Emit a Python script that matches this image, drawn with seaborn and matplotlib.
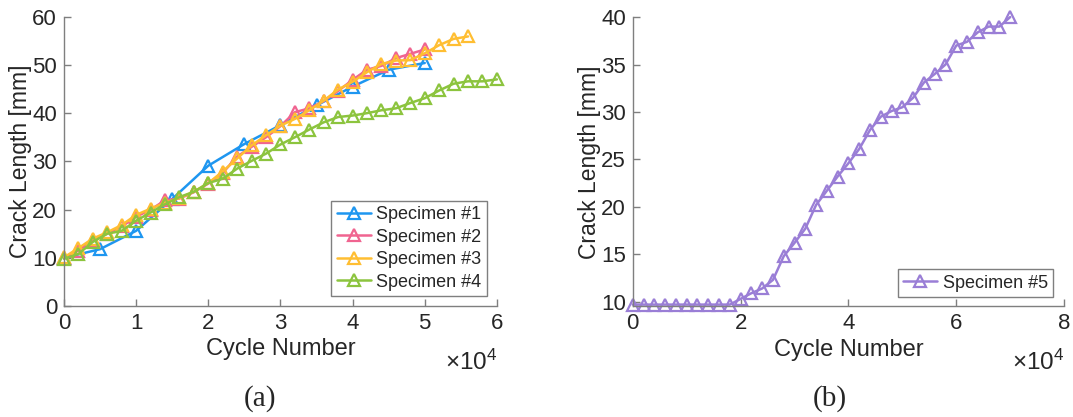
import numpy as np
import pandas as pd
import seaborn as sns
import matplotlib.pyplot as plt

# cycle numbers are in units of 1e4
x_s1 = [0, 0.5, 1.0, 1.5, 2.0, 2.5, 3.0, 3.5, 4.0, 4.5, 5.0]
y_s1 = [10.0, 11.8, 15.6, 22.2, 29.1, 33.6, 37.5, 41.6, 45.5, 49.0, 50.4]

x_s2 = [0, 0.2, 0.4, 0.6, 0.8, 1.0, 1.2, 1.4, 1.6, 1.8, 2.0, 2.2, 2.4, 2.6, 2.8,
        3.0, 3.2, 3.4, 3.6, 3.8, 4.0, 4.2, 4.4, 4.6, 4.8, 5.0]
y_s2 = [10.0, 11.5, 13.6, 15.0, 16.5, 18.5, 20.0, 21.9, 22.3, 23.6, 25.4, 27.6, 31.0,
        33.0, 35.0, 37.3, 40.2, 41.0, 42.5, 44.6, 46.9, 49.0, 49.8, 51.4, 52.3, 53.2]

x_s3 = [0, 0.2, 0.4, 0.6, 0.8, 1.0, 1.2, 1.4, 1.6, 1.8, 2.0, 2.2, 2.4, 2.6, 2.8,
        3.0, 3.2, 3.4, 3.6, 3.8, 4.0, 4.2, 4.4, 4.6, 4.8, 5.0, 5.2, 5.4, 5.6]
y_s3 = [10.1, 12.0, 14.0, 15.3, 16.8, 18.9, 20.2, 21.4, 22.4, 23.7, 25.5, 27.9, 30.6,
        33.3, 35.4, 37.4, 38.8, 40.6, 42.6, 44.9, 46.5, 48.5, 50.2, 50.9, 51.0, 52.4,
        54.1, 55.4, 55.9]

x_s4 = [0, 0.2, 0.4, 0.6, 0.8, 1.0, 1.2, 1.4, 1.6, 1.8, 2.0, 2.2, 2.4, 2.6, 2.8,
        3.0, 3.2, 3.4, 3.6, 3.8, 4.0, 4.2, 4.4, 4.6, 4.8, 5.0, 5.2, 5.4, 5.6, 5.8, 6.0]
y_s4 = [9.8, 10.8, 13.3, 15.0, 15.6, 17.7, 19.4, 21.1, 22.6, 23.7, 25.5, 26.4, 28.5,
        30.1, 31.6, 33.5, 35.0, 36.6, 38.1, 39.2, 39.5, 40.0, 40.6, 41.0, 42.1, 43.1,
        44.7, 46.1, 46.6, 46.6, 47.0]

x_s5 = [0, 0.2, 0.4, 0.6, 0.8, 1.0, 1.2, 1.4, 1.6, 1.8, 2.0, 2.2, 2.4, 2.6, 2.8,
        3.0, 3.2, 3.4, 3.6, 3.8, 4.0, 4.2, 4.4, 4.6, 4.8, 5.0, 5.2, 5.4, 5.6, 5.8,
        6.0, 6.2, 6.4, 6.6, 6.8, 7.0]
y_s5 = [9.7, 9.7, 9.7, 9.7, 9.7, 9.7, 9.7, 9.7, 9.7, 9.7, 10.3, 10.9, 11.4, 12.3,
        14.8, 16.2, 17.7, 20.2, 21.7, 23.2, 24.6, 26.1, 28.1, 29.5, 30.1, 30.5, 31.5,
        33.1, 34.0, 35.0, 37.0, 37.4, 38.4, 39.0, 39.0, 40.0]

left_series = [("Specimen #1", x_s1, y_s1, "#1E96F0"),
               ("Specimen #2", x_s2, y_s2, "#F06490"),
               ("Specimen #3", x_s3, y_s3, "#FFBE32"),
               ("Specimen #4", x_s4, y_s4, "#8CC43E")]
right_series = [("Specimen #5", x_s5, y_s5, "#9A7ED6")]

sns.set_style("white")
plt.rcParams['font.family'] = ['Liberation Sans', 'DejaVu Sans']
plt.rcParams['mathtext.fontset'] = 'custom'
plt.rcParams['mathtext.rm'] = 'Liberation Sans'
plt.rcParams['mathtext.it'] = 'Liberation Sans'

fig = plt.figure(figsize=(10.73, 4.17), dpi=100)
ax1 = fig.add_axes([0.0596, 0.266, 0.4035, 0.694])
ax2 = fig.add_axes([0.5897, 0.265, 0.402, 0.694])

def draw(ax, series):
    for name, xs, ys, c in series:
        df = pd.DataFrame({"cycle": xs, "crack": ys})
        sns.lineplot(data=df, x="cycle", y="crack", ax=ax, color=c, lw=1.8,
                     marker="^", ms=8.5, mfc="none", mec=c, mew=1.6, label=name,
                     clip_on=False)

draw(ax1, left_series)
draw(ax2, right_series)

for ax in (ax1, ax2):
    for s in ("top", "right"):
        ax.spines[s].set_visible(False)
    for s in ("left", "bottom"):
        ax.spines[s].set_color("#7f7f7f")
        ax.spines[s].set_linewidth(1.0)
    ax.tick_params(direction="in", length=5, width=1, color="#7f7f7f",
                   bottom=True, left=True, labelsize=16, labelcolor="#262626",
                   pad=5)
    ax.set_xlabel("Cycle Number", fontsize=17, color="#262626", labelpad=3)
    ax.set_ylabel("Crack Length [mm]", fontsize=16.5, color="#262626", labelpad=0)
    ax.text(1.0, -0.15, r"$\times\mathrm{10}^{4}$", transform=ax.transAxes,
            ha="right", va="top", fontsize=17.5, color="#262626")

ax1.set_xlim(0, 6)
ax1.set_ylim(0, 60)
ax1.set_xticks(np.arange(0, 7, 1))
ax1.set_yticks(np.arange(0, 70, 10))

ax2.set_xlim(0, 8)
ax2.set_ylim(9.5, 40)
ax2.set_xticks(np.arange(0, 10, 2))
ax2.set_yticks(np.arange(10, 45, 5))

leg_kw = dict(loc="lower right", fontsize=13, frameon=True, fancybox=False,
              edgecolor="#7f7f7f", framealpha=1, borderaxespad=0,
              handlelength=1.9, handletextpad=0.3, labelspacing=0.3,
              borderpad=0.3)
l1 = ax1.legend(bbox_to_anchor=(0.977, 0.035), **leg_kw)
l2 = ax2.legend(bbox_to_anchor=(0.975, 0.033), **leg_kw)
for l in (l1, l2):
    l.get_frame().set_linewidth(1.0)

fig.text(0.2423, 0.045, "(a)", family="Liberation Serif", fontsize=21,
         ha="center", va="center")
fig.text(0.7738, 0.045, "(b)", family="Liberation Serif", fontsize=21,
         ha="center", va="center")

fig.savefig("out.png", dpi=100)
